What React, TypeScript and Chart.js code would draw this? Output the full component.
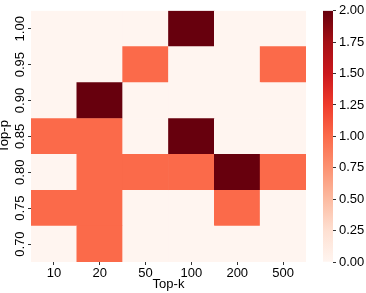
import React, { useEffect, useRef } from "react";
import { Chart, registerables } from "chart.js";

Chart.register(...registerables);

const topK = ["10", "20", "50", "100", "200", "500"];
// bottom to top
const topP = ["0.70", "0.75", "0.80", "0.85", "0.90", "0.95", "1.00"];
const row070 = [0, 1, 0, 0, 0, 0];
const row075 = [1, 1, 0, 0, 1, 0];
const row080 = [0, 1, 1, 1, 2, 1];
const row085 = [1, 1, 0, 2, 0, 0];
const row090 = [0, 2, 0, 0, 0, 0];
const row095 = [0, 0, 1, 0, 0, 1];
const row100 = [0, 0, 0, 2, 0, 0];
const rows = [row070, row075, row080, row085, row090, row095, row100];
const vmin = 0;
const vmax = 2;
const cbTicks = [0, 0.25, 0.5, 0.75, 1, 1.25, 1.5, 1.75, 2];

const reds = ["#fff5f0", "#fee0d2", "#fcbba1", "#fc9272", "#fb6a4a", "#ef3b2c", "#cb181d", "#a50f15", "#67000d"];

function hexToRgb(h: string) {
  return [parseInt(h.slice(1, 3), 16), parseInt(h.slice(3, 5), 16), parseInt(h.slice(5, 7), 16)];
}
function colorFor(v: number) {
  const t = Math.max(0, Math.min(1, (v - vmin) / (vmax - vmin)));
  const p = t * (reds.length - 1);
  const i = Math.min(Math.floor(p), reds.length - 2);
  const f = p - i;
  const a = hexToRgb(reds[i]);
  const b = hexToRgb(reds[i + 1]);
  const c = a.map((x, k) => Math.round(x + (b[k] - x) * f));
  return `rgb(${c[0]},${c[1]},${c[2]})`;
}

const FONT = "'Liberation Sans', Arial, sans-serif";

const yLabelPlugin = {
  id: "yLabels",
  afterDraw(chart: any) {
    const s = chart.scales.y;
    const ctx = chart.ctx;
    ctx.save();
    ctx.font = `13px ${FONT}`;
    ctx.fillStyle = "#000";
    ctx.textAlign = "center";
    ctx.textBaseline = "middle";
    topP.forEach((lab, i) => {
      const y = s.getPixelForValue(i + 0.5);
      ctx.save();
      ctx.translate(20.5, y);
      ctx.rotate(-Math.PI / 2);
      ctx.fillText(lab, 0, 0);
      ctx.restore();
    });
    ctx.restore();
  },
};

export default function App() {
  const ref1 = useRef<HTMLCanvasElement>(null);
  const ref2 = useRef<HTMLCanvasElement>(null);
  useEffect(() => {
    const datasets = rows.map((row, r) => ({
      data: row.map(() => [r, r + 1]),
      backgroundColor: row.map(colorFor),
      borderWidth: 0,
      grouped: false,
      barPercentage: 1,
      categoryPercentage: 1,
    }));
    const c1 = new Chart(ref1.current!, {
      type: "bar",
      data: { labels: topK, datasets: datasets as any },
      plugins: [yLabelPlugin],
      options: {
        animation: false,
        responsive: false,
        layout: { padding: { top: 5, right: 4, left: 0, bottom: 0 } },
        plugins: { legend: { display: false }, tooltip: { enabled: false } },
        scales: {
          x: {
            grid: { display: true, offset: false, drawOnChartArea: false, drawTicks: true, tickLength: 3, color: "#333" },
            border: { display: false },
            ticks: { font: { size: 13, family: FONT }, color: "#000", padding: 1 },
            title: { display: true, text: "Top-k", font: { size: 13, family: FONT, lineHeight: 1.3 }, color: "#000", padding: 0 },
            afterFit: (s: any) => { s.height = 31; },
          },
          y: {
            min: 0,
            max: 7,
            afterBuildTicks: (s: any) => { s.ticks = topP.map((_, i) => ({ value: i + 0.5 })); },
            grid: { display: true, drawOnChartArea: false, drawTicks: true, tickLength: 3, color: "#333" },
            border: { display: false },
            ticks: { callback: () => "", font: { size: 13, family: FONT } },
            title: { display: true, text: "Top-p", font: { size: 13, family: FONT, lineHeight: 0.75 }, color: "#000", padding: 0 },
            afterFit: (s: any) => { s.width = 31; },
          },
        },
      },
    });
    const c2 = new Chart(ref2.current!, {
      type: "bar",
      data: {
        labels: ["cb"],
        datasets: [
          {
            data: [[vmin, vmax]] as any,
            borderWidth: 0,
            barPercentage: 1,
            categoryPercentage: 1,
            backgroundColor: (ctx: any) => {
              const area = ctx.chart.chartArea;
              if (!area) return reds[4];
              const g = ctx.chart.ctx.createLinearGradient(0, area.bottom, 0, area.top);
              reds.forEach((c, i) => g.addColorStop(i / (reds.length - 1), c));
              return g;
            },
          },
        ],
      },
      options: {
        animation: false,
        responsive: false,
        layout: { padding: { top: 5, right: 0, left: 13, bottom: 31 } },
        plugins: { legend: { display: false }, tooltip: { enabled: false } },
        scales: {
          x: { display: false },
          y: {
            position: "right",
            min: vmin,
            max: vmax,
            afterBuildTicks: (s: any) => { s.ticks = cbTicks.map((v) => ({ value: v })); },
            grid: { display: true, drawOnChartArea: false, drawTicks: true, tickLength: 3, color: "#333" },
            border: { display: false },
            ticks: { font: { size: 13, family: FONT }, color: "#000", padding: 3, callback: (v: any) => Number(v).toFixed(2) },
            afterFit: (s: any) => { s.width = 33; },
          },
        },
      },
    });
    return () => { c1.destroy(); c2.destroy(); };
  }, []);
  return (
    <div style={{ position: "fixed", left: 0, top: 0, width: 366, height: 293, background: "#fff" }}>
      <canvas ref={ref1} width={310} height={293} style={{ position: "absolute", left: 0, top: 0, width: 310, height: 293 }} />
      <canvas ref={ref2} width={56} height={293} style={{ position: "absolute", left: 310, top: 0, width: 56, height: 293 }} />
    </div>
  );
}
